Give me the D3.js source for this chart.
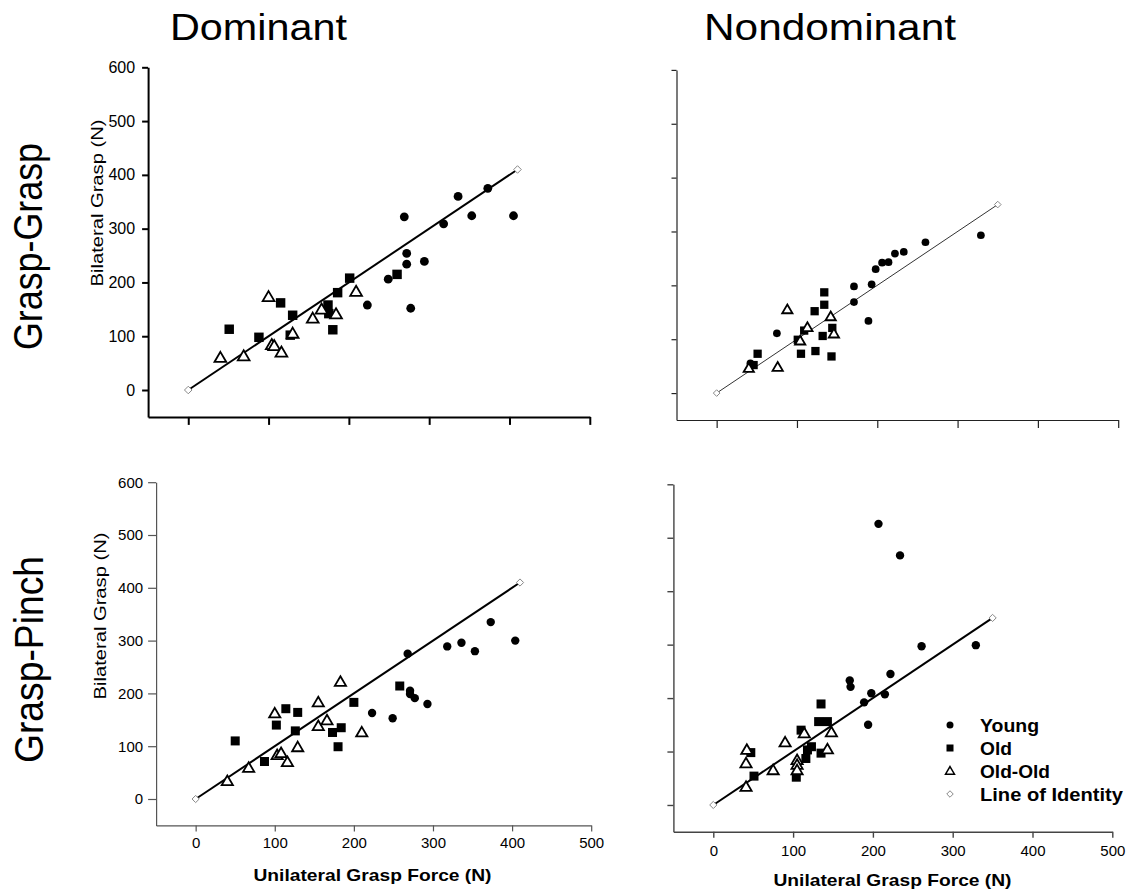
<!DOCTYPE html>
<html>
<head>
<meta charset="utf-8">
<script src="https://cdn.jsdelivr.net/npm/d3@7"></script>
<style>
  body { margin: 0; background: #fff; }
  text { font-family: "Liberation Sans", Arial, Helvetica, sans-serif; fill: #000; }
</style>
</head>
<body>
<svg id="chart" width="1135" height="894"></svg>
<script>
// Unilateral grasp force (x, N) vs bilateral grasp force (y, N)

// Dominant hand, Grasp-Grasp
const domGG_young = [[269,322],[336,360],[373,375],[353,324],[405,324],[318,309],[272,254],[272,234],[294,239],[249,206],[223,158],[277,152]];
const domGG_old = [[51,113],[88,98],[115,162],[130,139],[127,102],[174,158],[175,142],[180,112],[186,181],[201,208],[260,215]];
const domGG_oldOld = [[40,60],[69,63],[100,173],[104,84],[107,82],[116,70],[130,105],[155,133],[166,150],[184,141],[209,183]];

// Nondominant hand, Grasp-Grasp
const nondomGG_young = [[329,293],[260,280],[233,262],[222,259],[214,243],[206,242],[198,230],[193,202],[171,198],[171,169],[189,134],[75,111],[42,55]];
const nondomGG_old = [[134,187],[134,164],[122,152],[144,121],[132,106],[105,73],[123,78],[143,68],[51,73],[46,52],[109,116],[101,99]];
const nondomGG_oldOld = [[88,155],[142,142],[146,110],[113,122],[104,97],[76,48],[40,46]];

// Dominant hand, Grasp-Pinch
const domGP_young = [[404,300],[373,335],[336,296],[318,289],[353,280],[268,275],[271,205],[271,199],[277,191],[293,180],[223,163],[249,153]];
const domGP_old = [[50,110],[87,71],[102,140],[114,171],[129,164],[126,129],[173,126],[184,135],[180,99],[200,183],[258,214]];
const domGP_oldOld = [[40,34],[67,59],[100,162],[103,83],[108,87],[116,70],[129,98],[155,183],[155,138],[166,149],[183,222],[210,126]];

// Nondominant hand, Grasp-Pinch
const nondomGP_young = [[207,526],[234,467],[261,297],[329,299],[222,245],[171,233],[172,221],[198,209],[215,207],[189,192],[194,150]];
const nondomGP_old = [[135,189],[132,156],[143,156],[110,140],[123,109],[118,103],[135,97],[116,87],[47,98],[51,54],[104,52]];
const nondomGP_oldOld = [[42,103],[41,78],[41,34],[75,65],[90,117],[114,134],[148,136],[143,104],[105,84],[105,75],[105,65]];

// Line of identity end value for each panel (runs from 0,0)
const identityEnd = { domGG: 410, nondomGG: 350, domGP: 410, nondomGP: 350 };

// Axis ticks
const xTicks = [0, 100, 200, 300, 400, 500];
const yTicks = [0, 100, 200, 300, 400, 500, 600];
const xDomain = [-50, 500];
const yDomain = [-50, 600];

const columnTitles = ["Dominant", "Nondominant"];
const rowTitles = ["Grasp-Grasp", "Grasp-Pinch"];
const yLabel = "Bilateral Grasp (N)";
const xLabel = "Unilateral Grasp Force (N)";
const legendItems = ["Young", "Old", "Old-Old", "Line of Identity"];

const svg = d3.select("#chart");

// Panel layout
const panels = [
  { key: "domGG", young: domGG_young, old: domGG_old, oo: domGG_oldOld,
    xr: [148.1, 589.8], yr: [416.9, 67.3], axisColor: "#000", axisW: 2,
    yLabels: true, xLabels: false, yTick: 6, yPad: 7, yFont: 16, xTick: 8, xPad: 6,
    lineW: 2, lineColor: "#000", mk: 1.05 },
  { key: "nondomGG", young: nondomGG_young, old: nondomGG_old, oo: nondomGG_oldOld,
    xr: [676.5, 1118.2], yr: [420, 69.9], axisColor: "#222", axisW: 1.2,
    yLabels: false, xLabels: false, yTick: 5, yPad: 6, yFont: 15, xTick: 8, xPad: 6,
    lineW: 1, lineColor: "#333", mk: 0.92 },
  { key: "domGP", young: domGP_young, old: domGP_old, oo: domGP_oldOld,
    xr: [156.1, 591.2], yr: [825.4, 482.2], axisColor: "#555", axisW: 1.2,
    yLabels: true, xLabels: true, yTick: 8, yPad: 5, yFont: 15, xTick: 6, xPad: 6,
    lineW: 2, lineColor: "#000", mk: 1 },
  { key: "nondomGP", young: nondomGP_young, old: nondomGP_old, oo: nondomGP_oldOld,
    xr: [673.4, 1112.3], yr: [831.7, 484.3], axisColor: "#444", axisW: 1.4,
    yLabels: false, xLabels: true, yTick: 6, yPad: 5, yFont: 15, xTick: 6, xPad: 8,
    lineW: 2, lineColor: "#000", mk: 1 }
];

function triPath(s) {
  const w = 5.6 * s, top = 5.6 * s, bot = 4 * s;
  return `M0,${-top}L${w},${bot}L${-w},${bot}Z`;
}
function diamondPath(s) {
  const d = 3.6 * s;
  return `M0,${-d}L${d},0L0,${d}L${-d},0Z`;
}

panels.forEach(p => {
  const x = d3.scaleLinear().domain(xDomain).range(p.xr);
  const y = d3.scaleLinear().domain(yDomain).range(p.yr);
  const g = svg.append("g");

  // y axis
  const yAxis = d3.axisLeft(y).tickValues(yTicks).tickSizeInner(p.yTick).tickSizeOuter(0)
    .tickPadding(p.yPad).tickFormat(p.yLabels ? d3.format("d") : () => "");
  const ya = g.append("g").attr("transform", `translate(${p.xr[0]},0)`).call(yAxis);
  ya.selectAll("path,line").attr("stroke", p.axisColor).attr("stroke-width", p.axisW);
  ya.selectAll("text").attr("font-size", p.yFont).attr("fill", "#000")
    .style("font-family", '"Liberation Sans", Arial, sans-serif');

  // x axis
  const xAxis = d3.axisBottom(x).tickValues(xTicks).tickSizeInner(p.xTick).tickSizeOuter(0)
    .tickPadding(p.xPad).tickFormat(p.xLabels ? d3.format("d") : () => "");
  const xa = g.append("g").attr("transform", `translate(0,${p.yr[0]})`).call(xAxis);
  xa.selectAll("path,line").attr("stroke", p.axisColor).attr("stroke-width", p.axisW);
  xa.selectAll("text").attr("font-size", 15).attr("fill", "#000")
    .style("font-family", '"Liberation Sans", Arial, sans-serif');

  // line of identity
  const m = identityEnd[p.key];
  g.append("line")
    .attr("x1", x(0)).attr("y1", y(0)).attr("x2", x(m)).attr("y2", y(m))
    .attr("stroke", p.lineColor).attr("stroke-width", p.lineW);
  g.selectAll(".idm").data([0, m]).enter().append("path")
    .attr("d", diamondPath(p.mk))
    .attr("transform", v => `translate(${x(v)},${y(v)})`)
    .attr("fill", "#fff").attr("stroke", "#888").attr("stroke-width", 1);

  // Old (filled squares)
  const sq = 9 * p.mk;
  g.selectAll(".old").data(p.old).enter().append("rect")
    .attr("x", d => x(d[0]) - sq / 2).attr("y", d => y(d[1]) - sq / 2)
    .attr("width", sq).attr("height", sq).attr("fill", "#000");

  // Young (filled circles)
  g.selectAll(".young").data(p.young).enter().append("circle")
    .attr("cx", d => x(d[0])).attr("cy", d => y(d[1])).attr("r", 4.2 * p.mk).attr("fill", "#000");

  // Old-Old (open triangles)
  g.selectAll(".oo").data(p.oo).enter().append("path")
    .attr("d", triPath(p.mk))
    .attr("transform", d => `translate(${x(d[0])},${y(d[1])})`)
    .attr("fill", "#fff").attr("stroke", "#000").attr("stroke-width", 1.8);
});

// Column titles
svg.append("text").attr("x", 170).attr("y", 39.5).attr("font-size", 36)
  .attr("textLength", 177).attr("lengthAdjust", "spacingAndGlyphs").text(columnTitles[0]);
svg.append("text").attr("x", 704).attr("y", 40).attr("font-size", 36)
  .attr("textLength", 252).attr("lengthAdjust", "spacingAndGlyphs").text(columnTitles[1]);

// Row titles
svg.append("text").attr("transform", "translate(41.5,350) rotate(-90)").attr("font-size", 40)
  .attr("textLength", 207).attr("lengthAdjust", "spacingAndGlyphs").text(rowTitles[0]);
svg.append("text").attr("transform", "translate(43,763) rotate(-90)").attr("font-size", 40)
  .attr("textLength", 207).attr("lengthAdjust", "spacingAndGlyphs").text(rowTitles[1]);

// Y axis titles
[[103, 203], [106, 616]].forEach(([cx, cy]) => {
  svg.append("text").attr("transform", `translate(${cx},${cy}) rotate(-90)`)
    .attr("text-anchor", "middle").attr("font-size", 17)
    .attr("textLength", 167).attr("lengthAdjust", "spacingAndGlyphs").text(yLabel);
});

// X axis titles
[[372.5, 881], [892.5, 886]].forEach(([cx, cy]) => {
  svg.append("text").attr("x", cx).attr("y", cy).attr("text-anchor", "middle")
    .attr("font-size", 17).attr("font-weight", "bold")
    .attr("textLength", 238).attr("lengthAdjust", "spacingAndGlyphs").text(xLabel);
});

// Legend
const lg = svg.append("g");
const lx = 950, ly0 = 731.5, lstep = 23;
const legendWidths = [59, 32, 70, 143];
legendItems.forEach((name, i) => {
  const by = ly0 + i * lstep, my = by - 6.5;
  if (i === 0) lg.append("circle").attr("cx", lx).attr("cy", my).attr("r", 3.5).attr("fill", "#000");
  if (i === 1) lg.append("rect").attr("x", lx - 3.5).attr("y", my - 3.5).attr("width", 7).attr("height", 7).attr("fill", "#000");
  if (i === 2) lg.append("path").attr("d", triPath(0.8)).attr("transform", `translate(${lx},${my})`)
    .attr("fill", "#fff").attr("stroke", "#000").attr("stroke-width", 1.5);
  if (i === 3) lg.append("path").attr("d", diamondPath(0.9)).attr("transform", `translate(${lx},${my})`)
    .attr("fill", "#fff").attr("stroke", "#888").attr("stroke-width", 1);
  lg.append("text").attr("x", 980).attr("y", by).attr("font-size", 18.5).attr("font-weight", "bold")
    .attr("textLength", legendWidths[i]).attr("lengthAdjust", "spacingAndGlyphs").text(name);
});
</script>
</body>
</html>
